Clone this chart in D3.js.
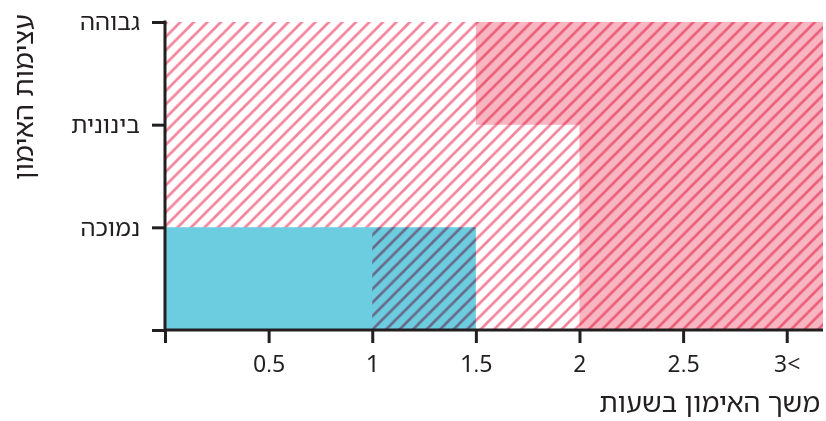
<!DOCTYPE html>
<html>
<head>
<meta charset="utf-8">
<script src="https://cdn.jsdelivr.net/npm/d3@7"></script>
<style>
  html, body { margin: 0; padding: 0; background: #fff; }
  svg { display: block; }
  text { font-family: "Noto Sans Hebrew", "Noto Sans", "DejaVu Sans", sans-serif; fill: #231f20; }
</style>
</head>
<body>
<svg id="chart" width="826" height="421"></svg>
<script>
// ---- data ----
const xMax = 3.175;
const xTickValues = [0, 0.5, 1, 1.5, 2, 2.5, 3];
const xTickLabels = ["", "0.5", "1", "1.5", "2", "2.5", "3<"];
const yTickValues = [0, 1, 2, 3];
const yTickLabels = ["", "נמוכה", "בינונית", "גבוהה"];
const xTitle = "משך האימון בשעות";
const yTitle = "עצימות האימון";
// zones as polygons in data units [hours, intensity]
const blueZone = [[0, 0], [1.5, 0], [1.5, 1], [0, 1]];
const pinkZone = [[1.5, 3], [xMax, 3], [xMax, 0], [2, 0], [2, 2], [1.5, 2]];
const hatchZone = [[0, 1], [1, 1], [1, 0], [xMax, 0], [xMax, 3], [0, 3]];

// ---- layout ----
const svg = d3.select("#chart");
const x = d3.scaleLinear().domain([0, xMax]).range([165, 823]);
const y = d3.scaleLinear().domain([0, 3]).range([330, 22]);

const defs = svg.append("defs");
const p = 13.5;
const pat = defs.append("pattern")
  .attr("id", "hatch")
  .attr("patternUnits", "userSpaceOnUse")
  .attr("width", p).attr("height", p);
pat.append("path")
  .attr("d", `M0,${p} L${p},0 M${-p/2},${p/2} L${p/2},${-p/2} M${p/2},${p*1.5} L${p*1.5},${p/2}`)
  .attr("stroke", "#f2849c")
  .attr("stroke-width", 2.7)
  .attr("fill", "none");

const line = d3.line().x(d => x(d[0])).y(d => y(d[1]));

svg.append("path").datum(blueZone)
  .attr("d", d => line(d) + "Z")
  .attr("fill", "#6dcde0");
svg.append("path").datum(pinkZone)
  .attr("d", d => line(d) + "Z")
  .attr("fill", "#f8b6c3");
svg.append("path").datum(hatchZone)
  .attr("d", d => line(d) + "Z")
  .attr("fill", "url(#hatch)")
  .style("mix-blend-mode", "multiply");

// ---- axes ----
const xAxis = d3.axisBottom(x)
  .tickValues(xTickValues)
  .tickFormat((d, i) => xTickLabels[i])
  .tickSize(13).tickSizeOuter(0).tickPadding(13);
const gx = svg.append("g").attr("transform", `translate(0,${y(0)})`).call(xAxis);
gx.select(".domain").attr("stroke", "#231f20").attr("stroke-width", 3)
  .attr("d", `M${x(0)},0H${x(xMax)}`);
gx.selectAll(".tick line").attr("stroke", "#231f20").attr("stroke-width", 3);
gx.selectAll(".tick text").attr("font-size", 23).attr("fill", "#231f20")
  .style("font-family", "\"Noto Sans Hebrew\", \"Noto Sans\", sans-serif")
  .attr("direction", "ltr");

const yAxis = d3.axisLeft(y)
  .tickValues(yTickValues)
  .tickFormat((d, i) => yTickLabels[i])
  .tickSize(13).tickSizeOuter(0).tickPadding(12);
const gy = svg.append("g").attr("transform", `translate(${x(0)},0)`).call(yAxis);
gy.select(".domain").attr("stroke", "#231f20").attr("stroke-width", 3)
  .attr("d", `M0,${y(3) - 1.5}V${y(0)}`);
gy.selectAll(".tick line").attr("stroke", "#231f20").attr("stroke-width", 3);
gy.selectAll(".tick text").attr("font-size", 24).attr("fill", "#231f20")
  .style("font-family", "\"Noto Sans Hebrew\", \"Noto Sans\", sans-serif");

// ---- titles ----
svg.append("text")
  .attr("x", 820).attr("y", 412)
  .attr("text-anchor", "start")
  .attr("direction", "rtl")
  .attr("font-size", 27)
  .text(xTitle);

svg.append("text")
  .attr("transform", "translate(33,97) rotate(-90)")
  .attr("text-anchor", "middle")
  .attr("direction", "rtl")
  .attr("font-size", 27)
  .text(yTitle);
</script>
</body>
</html>
